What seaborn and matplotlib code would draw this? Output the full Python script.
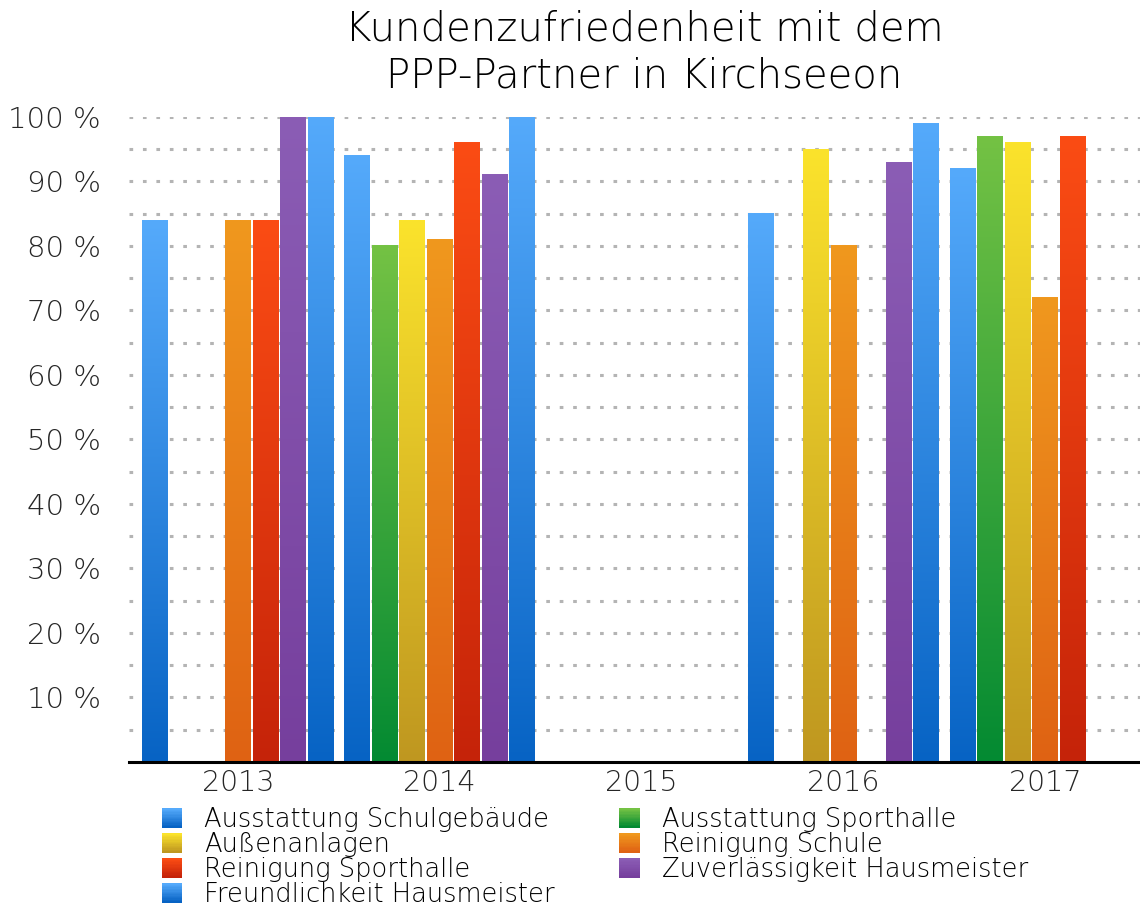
import matplotlib
matplotlib.use("Agg")
import matplotlib.pyplot as plt
from matplotlib.legend_handler import HandlerBase
from matplotlib.patches import Rectangle
from matplotlib.colors import to_rgb
import numpy as np
import pandas as pd
import seaborn as sns

years = ["2013", "2014", "2015", "2016", "2017"]
series = ["Ausstattung Schulgebäude", "Ausstattung Sporthalle", "Außenanlagen",
          "Reinigung Schule", "Reinigung Sporthalle",
          "Zuverlässigkeit Hausmeister", "Freundlichkeit Hausmeister"]
nan = np.nan
schulgebaeude = [84, 94, nan, 85, 92]
sporthalle = [nan, 80, nan, nan, 97]
aussenanlagen = [nan, 84, nan, 95, 96]
reinigung_schule = [84, 81, nan, 80, 72]
reinigung_sporthalle = [84, 96, nan, nan, 97]
zuverlaessigkeit = [100, 91, nan, 93, nan]
freundlichkeit = [100, 100, nan, 99, nan]
values = [schulgebaeude, sporthalle, aussenanlagen, reinigung_schule,
          reinigung_sporthalle, zuverlaessigkeit, freundlichkeit]

# (top, bottom) colours of the gradient
grad_colors = {
    "Ausstattung Schulgebäude": ("#55aafb", "#0763c4"),
    "Ausstattung Sporthalle": ("#74c244", "#038a32"),
    "Außenanlagen": ("#fbe32c", "#bf9720"),
    "Reinigung Schule": ("#f0981e", "#df6213"),
    "Reinigung Sporthalle": ("#fb4c14", "#c52309"),
    "Zuverlässigkeit Hausmeister": ("#8b5db5", "#763f9d"),
    "Freundlichkeit Hausmeister": ("#55aafb", "#0763c4"),
}

rows = []
for name, vals in zip(series, values):
    for y, v in zip(years, vals):
        rows.append({"Jahr": y, "Reihe": name, "Wert": v})
df = pd.DataFrame(rows)

sns.set_style("white")
plt.rcParams["font.family"] = ["DejaVu Sans"]
plt.rcParams["font.weight"] = "light"
plt.rcParams["text.color"] = "black"


def gradient(top, bottom, n=256):
    t = np.linspace(0, 1, n)[:, None]
    a = np.array(to_rgb(top))
    b = np.array(to_rgb(bottom))
    return (a * (1 - t) + b * t)[:, None, :]


class GradKey:
    def __init__(self, top, bottom):
        self.c = (top, bottom)


class GradKeyHandler(HandlerBase):
    def create_artists(self, legend, orig_handle, xdescent, ydescent,
                       width, height, fontsize, trans):
        top, bottom = orig_handle.c
        arts = []
        n = 14
        h = height
        y0 = -ydescent
        cols = gradient(top, bottom, n)[:, 0, :]
        for i in range(n):
            r = Rectangle((-xdescent, y0 + h - (i + 1) * h / n), width, h / n + 0.3,
                          facecolor=cols[i], edgecolor="none", transform=trans)
            arts.append(r)
        return arts


fig = plt.figure(figsize=(11.4, 9.06), dpi=100)
ax = fig.add_axes([0.113, 0.159, 0.887, 0.712])

palette = {k: v[0] for k, v in grad_colors.items()}
sns.barplot(data=df, x="Jahr", y="Wert", hue="Reihe", order=years,
            hue_order=series, palette=palette, width=0.955, gap=0.07,
            errorbar=None, legend=False, ax=ax)

for name, cont in zip(series, ax.containers):
    top, bottom = grad_colors[name]
    img = gradient(top, bottom)
    for p in cont.patches:
        h = p.get_height()
        p.set_visible(False)
        if not np.isfinite(h) or h <= 0:
            continue
        x0 = p.get_x()
        ax.imshow(img, extent=[x0, x0 + p.get_width(), 0, h],
                  aspect="auto", zorder=3, interpolation="bilinear")

ax.set_xlim(-0.54, 4.47)
ax.set_ylim(0, 100)
ax.set_xlabel("")
ax.set_ylabel("")

ax.set_yticks(np.arange(10, 101, 10))
ax.set_yticks(np.arange(5, 100, 10), minor=True)
ax.set_yticklabels([f"{v} %" for v in range(10, 101, 10)])
ax.yaxis.grid(True, which="both", color="#b4b4b4", linestyle=(0, (1.2, 3.2)),
              linewidth=2.2, zorder=0)
ax.set_axisbelow(True)
ax.tick_params(axis="y", which="major", direction="in", length=12, width=2.2,
               color="black", labelsize=21, pad=20)
ax.tick_params(axis="y", which="minor", direction="in", length=7, width=2.2,
               color="black")
ax.tick_params(axis="x", length=0, labelsize=20.5, pad=5)

for s in ["left", "right", "top"]:
    ax.spines[s].set_visible(False)
ax.spines["bottom"].set_linewidth(2.2)
ax.spines["bottom"].set_color("black")
ax.spines["bottom"].set_zorder(5)

fig.text(0.565, 0.99, "Kundenzufriedenheit mit dem\nPPP-Partner in Kirchseeon",
         ha="center", va="top", fontsize=29, linespacing=1.27)

leg_order = [0, 2, 4, 6, 1, 3, 5]
handles = [GradKey(*grad_colors[series[i]]) for i in leg_order]
labels = [series[i] for i in leg_order]
fig.legend(handles, labels, ncol=2, loc="upper left",
           bbox_to_anchor=(0.142, 0.109), frameon=False, fontsize=18.5,
           labelspacing=0.0, handlelength=0.8, handleheight=0.78,
           handletextpad=0.85, columnspacing=2.5, borderaxespad=0,
           borderpad=0, handler_map={GradKey: GradKeyHandler()})

fig.savefig("out.png", dpi=100)
